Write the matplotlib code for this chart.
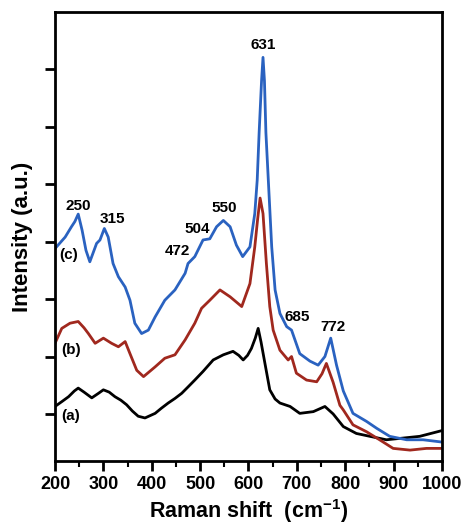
import matplotlib
matplotlib.use("Agg")
import matplotlib.pyplot as plt
from matplotlib.ticker import MultipleLocator

plt.rcParams["font.family"] = ["Liberation Sans", "DejaVu Sans"]
plt.rcParams["font.weight"] = "bold"
plt.rcParams["mathtext.fontset"] = "custom"
plt.rcParams["mathtext.rm"] = "Liberation Sans"
plt.rcParams["mathtext.bf"] = "Liberation Sans:bold"

# (a) black spectrum
shift_a = [200, 215, 228, 240, 248, 260, 276, 290, 300, 312, 324, 336, 348, 360,
           372, 386, 407, 420, 434, 448, 462, 475, 489, 506, 527, 548, 568, 580,
           589, 598, 606, 614, 620, 626, 634, 644, 655, 665, 686, 706, 734, 758,
           775, 796, 823, 851, 885, 920, 954, 1000]
int_a = [1.13, 1.22, 1.30, 1.40, 1.45, 1.38, 1.28, 1.36, 1.42, 1.38, 1.30, 1.24,
         1.16, 1.05, 0.96, 0.93, 1.01, 1.10, 1.19, 1.27, 1.36, 1.47, 1.59, 1.74,
         1.94, 2.03, 2.09, 2.02, 1.94, 2.02, 2.14, 2.32, 2.49, 2.25, 1.88, 1.42,
         1.26, 1.19, 1.13, 1.01, 1.04, 1.13, 1.00, 0.78, 0.66, 0.61, 0.55, 0.58,
         0.61, 0.71]

# (b) red spectrum
shift_b = [200, 214, 231, 248, 260, 269, 283, 300, 317, 331, 345, 355, 369, 383,
           407, 427, 448, 469, 489, 503, 520, 541, 562, 586, 603, 613, 619, 624,
           630, 637, 644, 651, 665, 682, 689, 699, 720, 741, 752, 761, 775, 789,
           796, 816, 844, 871, 899, 934, 968, 1000]
int_b = [2.23, 2.49, 2.58, 2.61, 2.50, 2.40, 2.23, 2.32, 2.23, 2.17, 2.26, 2.05,
         1.76, 1.65, 1.82, 1.97, 2.03, 2.29, 2.58, 2.84, 2.98, 3.16, 3.04, 2.87,
         3.27, 3.91, 4.40, 4.76, 4.49, 3.62, 2.87, 2.46, 2.11, 1.94, 2.00, 1.71,
         1.59, 1.56, 1.70, 1.88, 1.55, 1.15, 1.07, 0.81, 0.69, 0.55, 0.40, 0.37,
         0.40, 0.40]

# (c) blue spectrum
shift_c = [200, 221, 234, 241, 248, 256, 264, 272, 286, 293, 302, 310, 320, 331,
           345, 355, 365, 379, 393, 407, 427, 448, 469, 475, 489, 506, 520, 534,
           548, 562, 575, 588, 603, 613, 618, 622, 627, 630, 633, 636, 641, 648,
           655, 665, 679, 689, 706, 727, 744, 758, 770, 782, 796, 816, 844, 865,
           892, 927, 961, 1000]
int_c = [3.88, 4.08, 4.26, 4.35, 4.48, 4.20, 3.85, 3.65, 3.97, 4.03, 4.23, 4.08,
         3.62, 3.39, 3.21, 2.98, 2.58, 2.40, 2.46, 2.69, 2.98, 3.16, 3.45, 3.62,
         3.74, 4.03, 4.05, 4.26, 4.37, 4.26, 3.94, 3.74, 3.91, 4.49, 5.07, 5.90,
         6.80, 7.21, 6.80, 5.90, 5.07, 3.91, 3.16, 2.75, 2.52, 2.46, 2.05, 1.92,
         1.85, 2.00, 2.32, 1.85, 1.40, 1.01, 0.87, 0.75, 0.61, 0.55, 0.55, 0.51]

# peak annotations: (label, x, y)
peak_labels = [("250", 248, 4.63), ("315", 318, 4.40), ("472", 454, 3.83),
               ("504", 495, 4.22), ("550", 549, 4.58), ("631", 630, 7.42),
               ("685", 700, 2.69), ("772", 775, 2.51)]
curve_labels = [("(c)", 229, 3.77), ("(b)", 233, 2.11), ("(a)", 233, 0.97)]

fig = plt.figure(figsize=(4.63, 5.27), dpi=100)
ax = fig.add_axes([0.1188, 0.1252, 0.8358, 0.852])

ax.plot(shift_a, int_a, color="black", lw=2)
ax.plot(shift_b, int_b, color="#a0281e", lw=2)
ax.plot(shift_c, int_c, color="#2a62c0", lw=2)

for txt, x, y in peak_labels + curve_labels:
    ax.text(x, y, txt, ha="center", va="center", fontsize=11, fontweight="bold")

ax.set_xlim(200, 1000)
ax.set_ylim(0.18, 8.0)
ax.xaxis.set_major_locator(MultipleLocator(100))
ax.xaxis.set_minor_locator(MultipleLocator(50))
ax.set_yticks([1, 2, 3, 4, 5, 6, 7])
ax.set_yticklabels([])
ax.tick_params(axis="both", which="major", direction="out", length=7, width=2,
               labelsize=13)
ax.tick_params(axis="x", which="minor", direction="out", length=4.5, width=1.5)
for sp in ax.spines.values():
    sp.set_linewidth(2)

ax.set_xlabel(r"Raman shift  (cm$^{\mathbf{-1}}$)", fontsize=15.5, fontweight="bold",
              labelpad=3)
ax.set_ylabel("Intensity (a.u.)", fontsize=16, fontweight="bold", labelpad=5)

fig.savefig("out.png", dpi=100)
